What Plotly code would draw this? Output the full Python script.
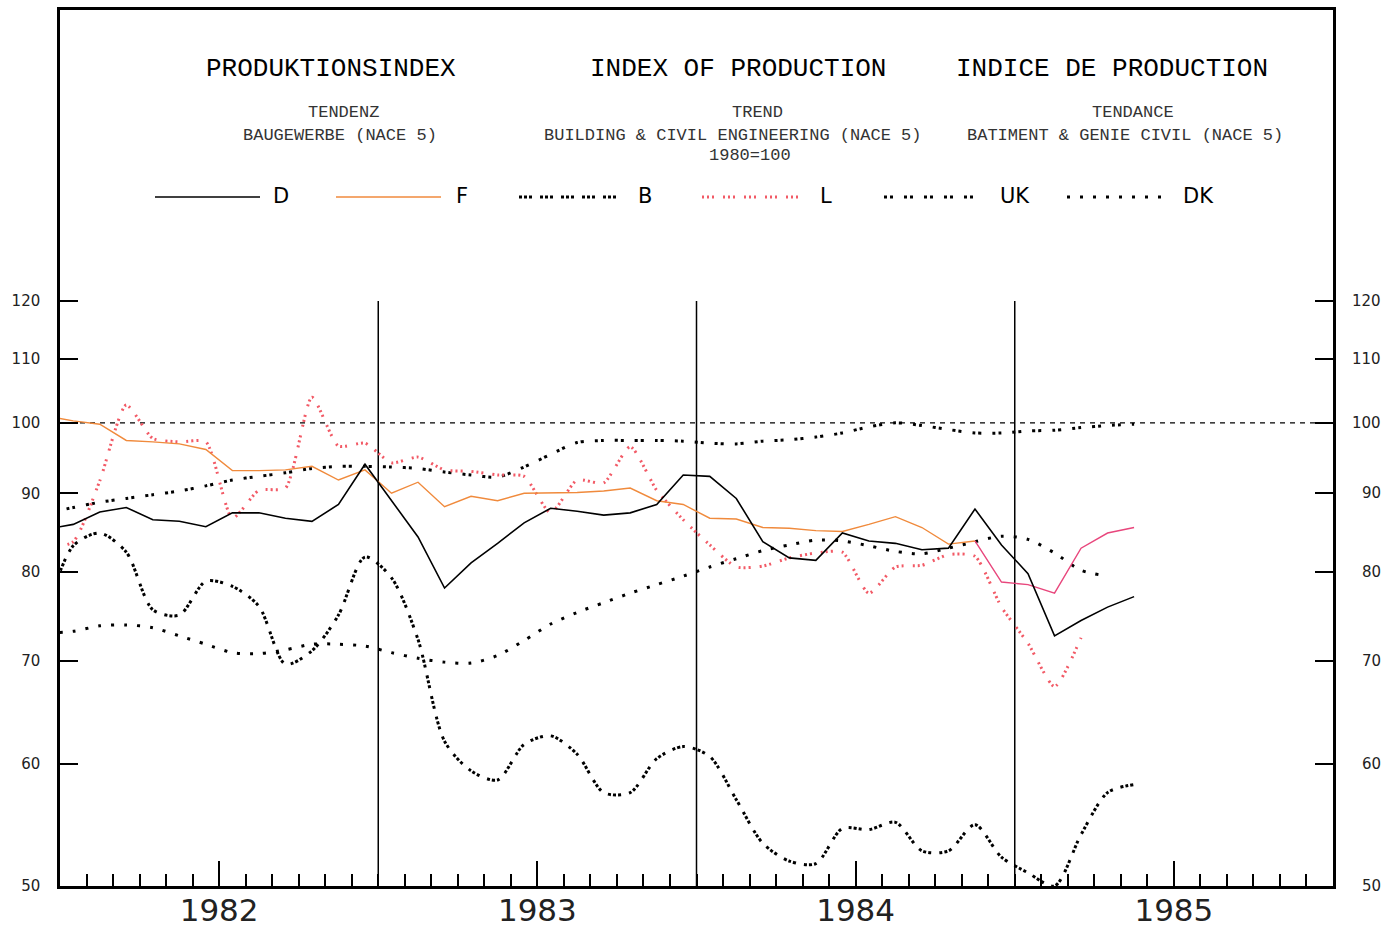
"""Produktionsindex Baugewerbe (NACE 5) - Trend, 1980=100"""
import math
import plotly.graph_objects as go

# month labels: Dec 1981 .. May 1985 (first point sits just left of the frame)
MONTHS = [f"{y}-{m:02d}" for y in range(1981, 1986) for m in range(1, 13)][11:53]

D = [85.3,
     85.9, 87.5, 88.1, 86.5, 86.3, 85.6, 87.4, 87.4, 86.7, 86.3, 88.5, 94.0,
     89.0, 84.3, 78.1, 81.1, 83.5, 86.1, 88.0, 87.6, 87.1, 87.4, 88.5, 92.5,
     92.3, 89.3, 83.7, 81.7, 81.4, 84.8, 83.8, 83.5, 82.7, 82.9, 87.9, 83.3,
     79.8, 72.7, 74.4, 75.9, 77.1]
F = [101.0,
     100.3, 99.8, 97.4, 97.2, 96.9, 96.1, 93.1, 93.1, 93.2, 93.7, 91.8, 93.2,
     90.0, 91.5, 88.2, 89.6, 89.0, 90.0, 90.0, 90.1, 90.3, 90.7, 89.0, 88.5,
     86.7, 86.6, 85.5, 85.4, 85.1, 85.0, 85.9, 86.9, 85.5, 83.4, 83.8, 78.8,
     78.5, 77.5, 82.9, 84.8, 85.5]
B = [75.5,
     83.2, 84.8, 82.4, 75.6, 75.0, 78.9, 78.3, 76.0, 69.7, 71.1, 75.0, 81.8,
     79.3, 72.3, 62.1, 59.4, 58.6, 61.8, 62.6, 60.9, 57.5, 57.5, 60.5, 61.6,
     60.7, 56.9, 53.3, 51.9, 51.7, 54.5, 54.4, 55.0, 52.7, 52.7, 54.8, 52.2,
     51.0, 50.0, 54.0, 57.5, 58.2]
L = [82.8,
     83.7, 91.7, 102.7, 97.7, 97.2, 97.2, 86.7, 90.4, 90.7, 103.9, 96.6, 97.0,
     94.2, 95.0, 93.2, 93.0, 92.5, 92.3, 87.4, 91.8, 91.4, 96.5, 90.4, 86.5,
     83.3, 80.6, 80.7, 81.7, 82.3, 82.4, 77.5, 80.6, 80.8, 82.1, 81.9, 75.9,
     71.9, 67.4, 72.5]
UK = [87.4,
      88.1, 88.8, 89.3, 89.8, 90.3, 91.0, 91.8, 92.3, 92.8, 93.4, 93.7, 93.7,
      93.6, 93.4, 92.9, 92.5, 92.2, 93.6, 95.4, 97.1, 97.4, 97.4, 97.4, 97.3,
      97.0, 96.9, 97.3, 97.5, 97.9, 98.5, 99.4, 100.0, 99.6, 99.0, 98.5, 98.5,
      98.8, 98.9, 99.3, 99.6, 99.8]
DK = [73.0,
      73.2, 73.8, 73.9, 73.6, 72.7, 71.8, 70.9, 70.8, 71.2, 71.8, 71.8, 71.6,
      70.9, 70.3, 69.9, 69.8, 70.6, 72.2, 74.0, 75.3, 76.4, 77.5, 78.5, 79.5,
      80.6, 81.6, 82.6, 83.3, 83.9, 83.8, 83.2, 82.5, 82.2, 82.9, 83.7, 84.4,
      84.0, 82.3, 80.2, 79.5]

YEARS = [1982, 1983, 1984, 1985]
Y_TICKS = [50, 60, 70, 80, 90, 100, 110, 120]

ORANGE = "#f08a3c"
PINK = "#e8467c"
CORAL = "#f25a66"

# canvas / frame in pixels
W, H = 1397, 930
L_PX, R_PX, T_PX, B_PX = 60, 1333, 10, 886
Y_TOP = 185.5


def mx(label):
    y, m = label.split("-")
    return int(y) + (int(m) - 0.5) / 12


def px(x):
    return (x - L_PX) / (R_PX - L_PX)


def py(y):
    return (B_PX - y) / (B_PX - T_PX)


X = [mx(m) for m in MONTHS]

fig = go.Figure()

# reference line at 100 and year separators
fig.add_trace(go.Scatter(x=[YEARS[0], YEARS[-1] + 1], y=[100, 100], mode="lines",
                         line=dict(color="black", width=1.2, dash="5px,5px"),
                         hoverinfo="skip"))
for yr in YEARS[1:]:
    fig.add_trace(go.Scatter(x=[yr, yr], y=[50, 120], mode="lines",
                             line=dict(color="black", width=1.5), hoverinfo="skip"))

DASH_B = "3px,2px,3px,2px,3px,8px"
DASH_L = "2px,3px,2px,3px,2px,9px"
DASH_UK = "3px,3px,3px,11px"
DASH_DK = "3px,10px"

SERIES = [
    ("DK", DK, dict(color="black", width=3, dash=DASH_DK, shape="spline", smoothing=0.8)),
    ("UK", UK, dict(color="black", width=3, dash=DASH_UK, shape="spline", smoothing=0.8)),
    ("B", B, dict(color="black", width=3, dash=DASH_B, shape="spline", smoothing=0.8)),
    ("L", L, dict(color=CORAL, width=3, dash=DASH_L, shape="spline", smoothing=0.6)),
]
for name, vals, ln in SERIES:
    fig.add_trace(go.Scatter(x=X[:len(vals)], y=vals, mode="lines", name=name, line=ln))

# F changes colour on the original plot towards the end
fig.add_trace(go.Scatter(x=X[:36], y=F[:36], mode="lines", name="F",
                         line=dict(color=ORANGE, width=1.4)))
fig.add_trace(go.Scatter(x=X[35:], y=F[35:], mode="lines", name="F",
                         line=dict(color=PINK, width=1.4)))
fig.add_trace(go.Scatter(x=X, y=D, mode="lines", name="D",
                         line=dict(color="black", width=1.6)))

# x ticks: long at quarters (year label at mid-year), short every month
quarters = [yr + q / 4 for yr in YEARS for q in (1, 2, 3)]
qtext = [str(yr) if q == 2 else "" for yr in YEARS for q in (1, 2, 3)]
months = [yr + k / 12 for yr in YEARS for k in range(12)]

shapes = []
annotations = []

# legend drawn as in the original
LEGEND = [("D", 155, 260, 281, dict(color="black", width=1.6)),
          ("F", 336, 441, 462, dict(color=ORANGE, width=1.6)),
          ("B", 519, 623, 645, dict(color="black", width=3, dash=DASH_B)),
          ("L", 702, 805, 826, dict(color=CORAL, width=3, dash=DASH_L)),
          ("UK", 884, 982, 1015, dict(color="black", width=3, dash=DASH_UK)),
          ("DK", 1067, 1171, 1198, dict(color="black", width=3, dash=DASH_DK))]
for name, x0, x1, xl, ln in LEGEND:
    shapes.append(dict(type="line", xref="paper", yref="paper",
                       x0=px(x0), x1=px(x1), y0=py(197), y1=py(197), line=ln))
    annotations.append(dict(text=name, xref="paper", yref="paper", x=px(xl), y=py(196),
                            xanchor="center", yanchor="middle", showarrow=False,
                            font=dict(family="DejaVu Sans", size=21, color="black")))

MONO = "Liberation Mono"
TEXTS = [
    ("PRODUKTIONSINDEX", 331, 69, 26, "black"),
    ("INDEX OF PRODUCTION", 738, 69, 26, "black"),
    ("INDICE DE PRODUCTION", 1112, 69, 26, "black"),
    ("TENDENZ", 343, 113, 17, "#333"),
    ("BAUGEWERBE (NACE 5)", 340, 135, 17, "#333"),
    ("TREND", 757, 113, 17, "#333"),
    ("BUILDING & CIVIL ENGINEERING (NACE 5)", 732, 135, 17, "#333"),
    ("1980=100", 750, 156, 17, "#333"),
    ("TENDANCE", 1133, 113, 17, "#333"),
    ("BATIMENT & GENIE CIVIL (NACE 5)", 1125, 135, 17, "#333"),
]
for txt, x, y, size, col in TEXTS:
    annotations.append(dict(text=txt, xref="paper", yref="paper", x=px(x), y=py(y),
                            xanchor="center", yanchor="middle", showarrow=False,
                            font=dict(family=MONO, size=size, color=col)))

# right-hand tick labels (right aligned)
for v in Y_TICKS:
    annotations.append(dict(text=str(v), xref="paper", yref="y", x=px(1383), y=math.log10(v),
                            xanchor="right", yanchor="middle", showarrow=False,
                            font=dict(family="DejaVu Sans", size=15, color="#222")))

fig.update_layout(
    width=W, height=H, autosize=False,
    margin=dict(l=L_PX, r=W - R_PX, t=T_PX, b=H - B_PX, pad=0),
    paper_bgcolor="white", plot_bgcolor="white",
    showlegend=False,
    shapes=shapes, annotations=annotations,
    xaxis=dict(
        range=[YEARS[0], YEARS[-1] + 1], showgrid=False, zeroline=False, automargin=False,
        showline=True, linecolor="black", linewidth=2.5, mirror=True,
        ticks="inside", tickvals=quarters, ticktext=qtext, ticklen=25, tickwidth=1.5,
        tickcolor="black", ticklabelstandoff=-5,
        minor=dict(tickvals=months, ticks="inside", ticklen=12, tickwidth=1.5, tickcolor="black"),
        tickfont=dict(family="DejaVu Sans", size=31, color="#222"),
    ),
    yaxis=dict(
        type="log", range=[math.log10(50), math.log10(Y_TOP)],
        showgrid=False, zeroline=False, automargin=False,
        showline=True, linecolor="black", linewidth=2.5, mirror="ticks",
        ticks="inside", tickvals=Y_TICKS, ticklen=18, tickwidth=1.5, tickcolor="black",
        ticklabelstandoff=14,
        tickfont=dict(family="DejaVu Sans", size=15, color="#222"),
    ),
)

fig.write_html("out.html", config={"displayModeBar": False},
               post_script="document.body.style.margin='0px';")
